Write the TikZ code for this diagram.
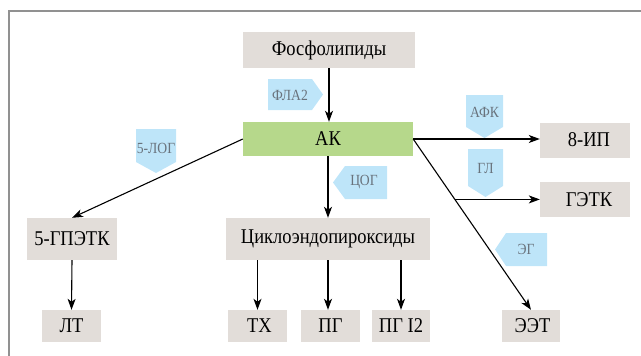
\documentclass[tikz,border=0pt]{standalone}
\usepackage{fontspec}
\setmainfont[FakeStretch=0.88]{Liberation Serif}
\usetikzlibrary{arrows.meta,calc}
\definecolor{boxgray}{RGB}{226,221,217}
\definecolor{boxgreen}{RGB}{182,216,139}
\definecolor{tagblue}{RGB}{190,229,249}
\definecolor{tagtext}{RGB}{105,115,125}
\definecolor{framegray}{RGB}{145,145,145}
\begin{document}
\begin{tikzpicture}[x=1pt,y=-1pt,
  box/.style={fill=boxgray, inner sep=0pt, font=\fontsize{21}{24}\selectfont},
  greenbox/.style={box, fill=boxgreen},
  tagshape/.style={fill=tagblue},
  tagtxt/.style={inner sep=0pt, text=tagtext, font=\fontsize{15.5}{18}\selectfont},
  arr/.style={line width=1.1pt, -{Stealth[length=11pt,width=8pt,inset=3pt]}},
  ln/.style={line width=1.1pt}]
\useasboundingbox (0,0) rectangle (641,356);
\draw[framegray, line width=2.6pt] (9,356) -- (9,11) -- (641,11);

% boxes
\node[box, minimum width=172pt, minimum height=36pt] (fos) at (329,50) {Фосфолипиды};
\node[greenbox, minimum width=170pt, minimum height=34pt] (ak) at (328,139) {АК};
\node[box, minimum width=90pt, minimum height=35pt] (ip) at (585,140) {\hspace*{8pt}8-ИП};
\node[box, minimum width=90pt, minimum height=35pt] (getk) at (585,199.5) {\hspace*{8pt}ГЭТК};
\node[box, minimum width=90pt, minimum height=42pt] (gpetk) at (72,239) {5-ГПЭТК};
\node[box, minimum width=204pt, minimum height=42pt] (cyc) at (328,239) {Циклоэндопироксиды};
\node[box, minimum width=59pt, minimum height=32pt] (lt) at (71.5,326) {ЛТ};
\node[box, minimum width=59pt, minimum height=32pt] (tx) at (257.5,326) {\hspace*{4pt}ТХ};
\node[box, minimum width=59pt, minimum height=32pt] (pg) at (330.5,326) {ПГ};
\node[box, minimum width=58pt, minimum height=32pt] (pgi) at (401,326) {ПГ I2};
\node[box, minimum width=58pt, minimum height=32pt] (eet) at (531,326) {\hspace*{3pt}ЭЭТ};

% tags
\fill[tagshape] (268,79) -- (312,79) -- (323,94.5) -- (312,110) -- (268,110) -- cycle;
\node[tagtxt] (fla) at (290,95) {ФЛА2};
\fill[tagshape] (136,129) -- (176,129) -- (176,162) -- (156,173) -- (136,162) -- cycle;
\node[tagtxt] (log) at (156,148) {5-ЛОГ};
\fill[tagshape] (387,166) -- (345,166) -- (333,182.5) -- (345,199) -- (387,199) -- cycle;
\node[tagtxt] (cog) at (364,182.5) {ЦОГ};
\fill[tagshape] (466,95) -- (503,95) -- (503,127) -- (484.5,138) -- (466,127) -- cycle;
\node[tagtxt] (afk) at (484.5,112) {АФК};
\fill[tagshape] (468,149) -- (503,149) -- (503,186) -- (485.5,197) -- (468,186) -- cycle;
\node[tagtxt] (gl) at (485.5,169) {ГЛ};
\fill[tagshape] (547,233) -- (506,233) -- (495,249.5) -- (506,266) -- (547,266) -- cycle;
\node[tagtxt] (eg) at (526,249.5) {ЭГ};

% connectors
\draw[arr] (fos.south) -- (fos.south |- ak.north);
\draw[arr] (ak.west) -- (gpetk.north);
\draw[arr] (ak.south) -- (cyc.north);
\draw[arr] (ak.east) -- (ak.east -| ip.west);
\draw[arr] (ak.east) -- (eet.north);
\coordinate (br) at ($(ak.east)!0.3538!(eet.north)$);
\draw[arr] (br) -- (br -| getk.west);
\draw[arr] (gpetk.south) -- (lt.north);
\draw[arr] (tx.north |- cyc.south) -- (tx.north);
\draw[arr] (cyc.south) -- (cyc.south |- pg.north);
\draw[arr] (pgi.north |- cyc.south) -- (pgi.north);
\end{tikzpicture}
\end{document}
